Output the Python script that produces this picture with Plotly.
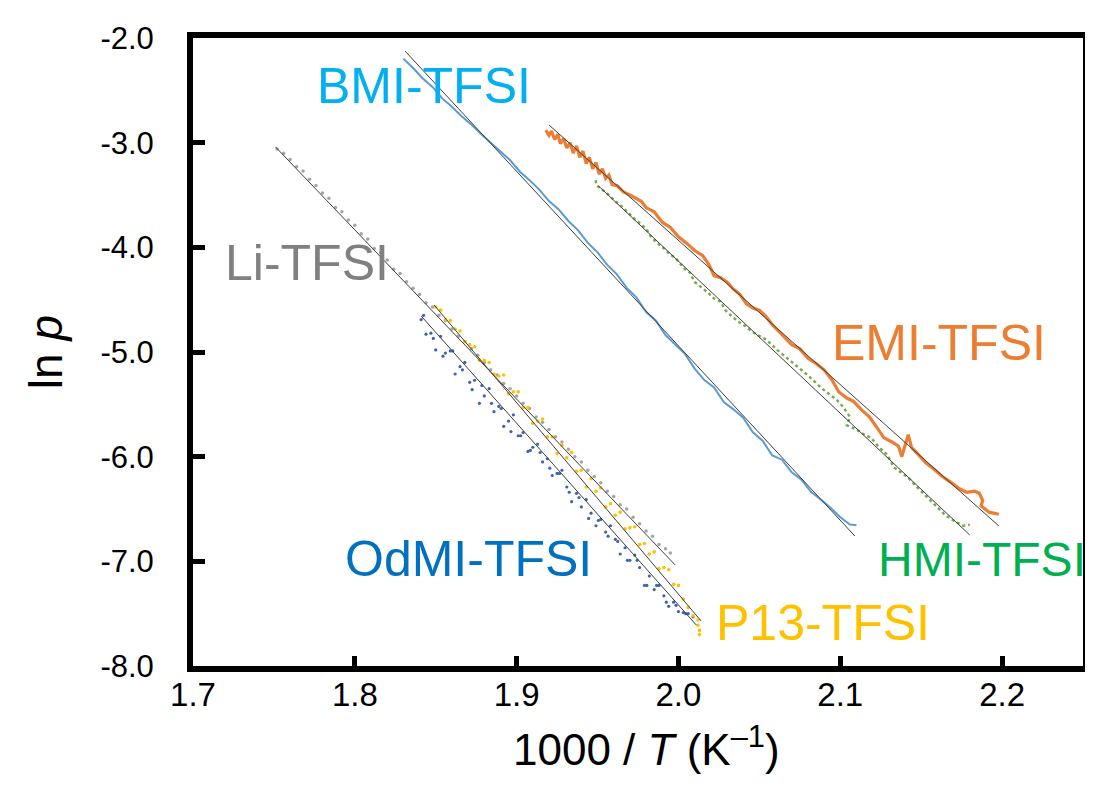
import plotly.graph_objects as go

# ---------------- data ----------------
x_ticks = [1.7, 1.8, 1.9, 2.0, 2.1, 2.2]
x_ticktext = ["1.7", "1.8", "1.9", "2.0", "2.1", "2.2"]
y_ticks = [-8, -7, -6, -5, -4, -3, -2]
y_ticktext = ["-8.0", "-7.0", "-6.0", "-5.0", "-4.0", "-3.0", "-2.0"]

# BMI-TFSI (line)
bmi_x = [1.830, 1.836, 1.842, 1.848, 1.854, 1.860, 1.866, 1.872, 1.878, 1.884, 1.890, 1.896,
         1.902, 1.908, 1.914, 1.920, 1.926, 1.932, 1.938, 1.944, 1.950, 1.956, 1.962, 1.968,
         1.974, 1.980, 1.986, 1.992, 1.998, 2.004, 2.010, 2.016, 2.022, 2.028, 2.034, 2.040,
         2.046, 2.052, 2.058, 2.064, 2.070, 2.076, 2.082, 2.088, 2.094, 2.100, 2.106, 2.110]
bmi_y = [-2.197, -2.287, -2.387, -2.467, -2.577, -2.657, -2.747, -2.827, -2.917, -2.998, -3.078, -3.168,
         -3.278, -3.358, -3.448, -3.558, -3.638, -3.748, -3.838, -3.958, -4.048, -4.168, -4.258, -4.388,
         -4.478, -4.618, -4.698, -4.838, -4.928, -5.018, -5.158, -5.268, -5.338, -5.478, -5.548, -5.628,
         -5.768, -5.848, -5.989, -6.029, -6.149, -6.219, -6.339, -6.409, -6.489, -6.579, -6.649, -6.655]

# EMI-TFSI (thick line)
emi_x = [1.9180, 1.9200, 1.9215, 1.9235, 1.9255, 1.9270, 1.9290, 1.9310, 1.9330, 1.9350, 1.9370, 1.9390,
         1.9410, 1.9430, 1.9450, 1.9470, 1.9490, 1.9510, 1.9530, 1.9550, 1.9570, 1.9590, 1.9620, 1.9660,
         1.9700, 1.9740, 1.9770, 1.9800, 1.9850, 1.9900, 1.9950, 2.0000, 2.0050, 2.0100, 2.0150, 2.0190,
         2.0220, 2.0260, 2.0300, 2.0340, 2.0380, 2.0420, 2.0460, 2.0500, 2.0540, 2.0580, 2.0620, 2.0660,
         2.0700, 2.0750, 2.0800, 2.0850, 2.0900, 2.0950, 2.0990, 2.1040, 2.1080, 2.1130, 2.1180, 2.1230,
         2.1270, 2.1320, 2.1360, 2.1380, 2.1420, 2.1440, 2.1480, 2.1530, 2.1580, 2.1630, 2.1680, 2.1730,
         2.1780, 2.1830, 2.1860, 2.1880, 2.1870, 2.1920, 2.1980]
emi_y = [-2.88, -2.93, -2.89, -2.97, -2.92, -3.01, -2.96, -3.05, -3.00, -3.10, -3.03, -3.14,
         -3.08, -3.20, -3.14, -3.25, -3.19, -3.30, -3.25, -3.34, -3.31, -3.40, -3.41, -3.47,
         -3.50, -3.53, -3.56, -3.62, -3.66, -3.76, -3.81, -3.90, -3.96, -4.03, -4.08, -4.17,
         -4.27, -4.29, -4.33, -4.40, -4.45, -4.54, -4.58, -4.60, -4.66, -4.74, -4.80, -4.87,
         -4.93, -4.97, -5.06, -5.11, -5.17, -5.27, -5.38, -5.44, -5.47, -5.55, -5.62, -5.73,
         -5.82, -5.86, -5.90, -6.00, -5.79, -5.91, -5.98, -6.06, -6.12, -6.19, -6.24, -6.30,
         -6.34, -6.33, -6.35, -6.42, -6.47, -6.53, -6.55]

# HMI-TFSI (dotted)
hmi_x = [1.9488, 1.9495, 1.9530, 1.9570, 1.9610, 1.9650, 1.9690, 1.9730, 1.9770, 1.9800, 1.9830, 1.9870,
         1.9910, 1.9950, 1.9980, 2.0010, 2.0040, 2.0070, 2.0100, 2.0140, 2.0180, 2.0220, 2.0260, 2.0290,
         2.0330, 2.0370, 2.0410, 2.0450, 2.0490, 2.0530, 2.0570, 2.0610, 2.0650, 2.0690, 2.0740, 2.0790,
         2.0840, 2.0880, 2.0930, 2.0980, 2.1020, 2.1060, 2.1040, 2.1100, 2.1150, 2.1190, 2.1240, 2.1290,
         2.1330, 2.1380, 2.1420, 2.1460, 2.1500, 2.1550, 2.1600, 2.1650, 2.1700, 2.1760, 2.1800]
hmi_y = [-3.36, -3.41, -3.45, -3.50, -3.56, -3.61, -3.67, -3.73, -3.78, -3.82, -3.90, -3.96,
         -4.01, -4.07, -4.10, -4.16, -4.21, -4.24, -4.33, -4.38, -4.43, -4.49, -4.52, -4.60,
         -4.66, -4.71, -4.75, -4.80, -4.84, -4.87, -4.92, -4.98, -5.03, -5.08, -5.14, -5.21,
         -5.28, -5.34, -5.40, -5.46, -5.53, -5.62, -5.70, -5.74, -5.79, -5.82, -5.91, -5.98,
         -6.10, -6.16, -6.20, -6.27, -6.33, -6.41, -6.49, -6.56, -6.61, -6.66, -6.65]

# Li-TFSI (small dots)
li_x = [1.752, 1.756, 1.760, 1.764, 1.768, 1.772, 1.776, 1.780, 1.784, 1.788, 1.792, 1.796,
        1.800, 1.804, 1.808, 1.812, 1.816, 1.820, 1.824, 1.828, 1.832, 1.836, 1.840, 1.844,
        1.848, 1.852, 1.856, 1.860, 1.864, 1.868, 1.872, 1.876, 1.880, 1.884, 1.888, 1.892,
        1.896, 1.900, 1.904, 1.908, 1.912, 1.916, 1.920, 1.924, 1.928, 1.932, 1.936, 1.940,
        1.944, 1.948, 1.952, 1.956, 1.960, 1.964, 1.968, 1.972, 1.976, 1.980, 1.984, 1.988,
        1.992, 1.995]
li_y = [-3.06, -3.10, -3.16, -3.23, -3.27, -3.35, -3.41, -3.48, -3.53, -3.62, -3.66, -3.74,
        -3.79, -3.87, -3.92, -4.01, -4.05, -4.12, -4.21, -4.25, -4.33, -4.39, -4.45, -4.53,
        -4.57, -4.65, -4.70, -4.78, -4.85, -4.90, -4.97, -5.03, -5.10, -5.17, -5.22, -5.30,
        -5.35, -5.42, -5.49, -5.54, -5.62, -5.67, -5.74, -5.81, -5.86, -5.93, -6.00, -6.05,
        -6.13, -6.19, -6.25, -6.33, -6.38, -6.46, -6.50, -6.58, -6.64, -6.71, -6.76, -6.84,
        -6.88, -6.92]

# OdMI-TFSI (scattered dots)
odmi_x = [1.841, 1.844, 1.847, 1.850, 1.853, 1.856, 1.859, 1.862, 1.865, 1.868, 1.871, 1.874,
          1.877, 1.880, 1.883, 1.886, 1.889, 1.892, 1.895, 1.898, 1.901, 1.904, 1.907, 1.910,
          1.913, 1.916, 1.919, 1.922, 1.925, 1.928, 1.931, 1.934, 1.937, 1.940, 1.943, 1.946,
          1.949, 1.952, 1.955, 1.958, 1.961, 1.964, 1.967, 1.970, 1.973, 1.976, 1.979, 1.982,
          1.985, 1.988, 1.991, 1.994, 1.997, 2.000, 2.003, 2.006, 2.009,
          1.8425, 1.8485, 1.8545, 1.8605, 1.8665, 1.8725, 1.8785, 1.8845, 1.8905, 1.8965,
          1.9025, 1.9085, 1.9145, 1.9205, 1.9265, 1.9325, 1.9385, 1.9445, 1.9505, 1.9565,
          1.9625, 1.9685, 1.9745, 1.9805, 1.9865, 1.9925, 1.9985, 2.0045]
odmi_y = [-4.69, -4.83, -4.82, -4.98, -4.85, -5.01, -4.99, -5.21, -5.14, -5.10, -5.29, -5.27,
          -5.49, -5.42, -5.35, -5.57, -5.52, -5.71, -5.66, -5.60, -5.80, -5.77, -5.95, -5.91,
          -5.88, -6.05, -6.02, -6.18, -6.16, -6.13, -6.29, -6.43, -6.35, -6.48, -6.41, -6.54,
          -6.66, -6.60, -6.72, -6.66, -6.79, -6.93, -6.87, -6.99, -6.94, -7.06, -7.23, -7.14,
          -7.27, -7.23, -7.33, -7.43, -7.39, -7.48, -7.49, -7.50, -7.53,
          -4.65, -4.87, -5.04, -4.99, -5.17, -5.36, -5.32, -5.49, -5.54, -5.76,
          -5.80, -5.94, -5.96, -6.11, -6.16, -6.34, -6.39, -6.59, -6.61, -6.76,
          -6.81, -6.99, -6.99, -7.23, -7.23, -7.39, -7.42, -7.50]

# P13-TFSI (dots)
p13_x = [1.850, 1.853, 1.856, 1.859, 1.862, 1.865, 1.868, 1.871, 1.874, 1.877, 1.880, 1.883,
         1.886, 1.889, 1.892, 1.895, 1.898, 1.901, 1.904, 1.907, 1.910, 1.913, 1.916, 1.919,
         1.922, 1.925, 1.928, 1.931, 1.934, 1.937, 1.940, 1.943, 1.946, 1.949, 1.952, 1.955,
         1.958, 1.961, 1.964, 1.967, 1.970, 1.973, 1.976, 1.979, 1.982, 1.985, 1.988, 1.991,
         1.994, 1.997, 2.000, 2.003, 2.006, 2.009, 2.012, 2.013, 2.013, 2.012]
p13_y = [-4.57, -4.60, -4.69, -4.70, -4.78, -4.80, -4.90, -4.93, -4.95, -5.08, -5.08, -5.10,
         -5.21, -5.23, -5.22, -5.40, -5.38, -5.38, -5.53, -5.53, -5.68, -5.66, -5.64, -5.81,
         -5.81, -5.97, -5.89, -6.01, -5.96, -6.14, -6.13, -6.29, -6.21, -6.33, -6.30, -6.48,
         -6.45, -6.56, -6.53, -6.69, -6.68, -6.67, -6.84, -6.83, -6.93, -6.91, -7.07, -7.06,
         -7.08, -7.22, -7.23, -7.36, -7.44, -7.52, -7.61, -7.66, -7.70, -7.56]

# linear fits (end points)
bmi_fit_x, bmi_fit_y = [1.831, 2.109], [-2.124, -6.758]
emi_fit_x, emi_fit_y = [1.920, 2.198], [-2.831, -6.662]
hmi_fit_x, hmi_fit_y = [1.9506, 2.180], [-3.414, -6.748]
li_fit_x, li_fit_y = [1.751, 1.998], [-3.041, -7.035]
p13_fit_x, p13_fit_y = [1.849, 2.014], [-4.551, -7.570]
odmi_fit_x, odmi_fit_y = [1.841, 2.011], [-4.656, -7.608]

FONT = "Liberation Sans, Arial, Helvetica, sans-serif"

fig = go.Figure()

# data series
fig.add_trace(go.Scatter(x=li_x, y=li_y, mode="markers",
                         marker=dict(color="#A5A5A5", size=3.5), hoverinfo="skip"))
fig.add_trace(go.Scatter(x=odmi_x, y=odmi_y, mode="markers",
                         marker=dict(color="#3B62B5", size=3.2), hoverinfo="skip"))
fig.add_trace(go.Scatter(x=p13_x, y=p13_y, mode="markers",
                         marker=dict(color="#FFC000", size=3.6), hoverinfo="skip"))
fig.add_trace(go.Scatter(x=bmi_x, y=bmi_y, mode="lines",
                         line=dict(color="#5B9BD5", width=2), hoverinfo="skip"))
fig.add_trace(go.Scatter(x=hmi_x, y=hmi_y, mode="lines",
                         line=dict(color="#70AD47", width=2.4, dash="dot"), hoverinfo="skip"))
fig.add_trace(go.Scatter(x=emi_x, y=emi_y, mode="lines",
                         line=dict(color="#ED7D31", width=3.2), hoverinfo="skip"))

# fit lines
for fx, fy in [(bmi_fit_x, bmi_fit_y), (emi_fit_x, emi_fit_y), (hmi_fit_x, hmi_fit_y),
               (li_fit_x, li_fit_y), (p13_fit_x, p13_fit_y), (odmi_fit_x, odmi_fit_y)]:
    fig.add_trace(go.Scatter(x=fx, y=fy, mode="lines",
                             line=dict(color="#3F3F3F", width=1), hoverinfo="skip"))

# series labels
labels = [
    ("BMI-TFSI", 1.8426, -2.46, "#00B0F0", 50),
    ("Li-TFSI", 1.7704, -4.15, "#808080", 50),
    ("EMI-TFSI", 2.1611, -4.91, "#ED7D31", 50),
    ("OdMI-TFSI", 1.8704, -6.98, "#0070C0", 50),
    ("HMI-TFSI", 2.1875, -6.98, "#00B050", 48),
    ("P13-TFSI", 2.0895, -7.59, "#FFC000", 50),
]
for txt, lx, ly, col, fs in labels:
    fig.add_annotation(x=lx, y=ly, xref="x", yref="y", text=txt, showarrow=False,
                       font=dict(family=FONT, size=fs, color=col),
                       xanchor="center", yanchor="middle")

# axis titles
fig.add_annotation(x=0.51, y=-0.128, xref="paper", yref="paper",
                   text="1000 / <i>T</i> (K<sup>–1</sup>)", showarrow=False,
                   font=dict(family=FONT, size=44, color="black"),
                   xanchor="center", yanchor="middle")
fig.add_annotation(x=-0.165, y=0.5, xref="paper", yref="paper",
                   text="ln <i>p</i>", showarrow=False, textangle=-90,
                   font=dict(family=FONT, size=46, color="black"),
                   xanchor="center", yanchor="middle")

fig.update_layout(
    width=1093, height=805,
    margin=dict(l=185, r=16, t=30, b=147),
    paper_bgcolor="white", plot_bgcolor="white",
    showlegend=False,
    font=dict(family=FONT, color="black"),
)
fig.update_xaxes(range=[1.7, 2.25], tickvals=x_ticks, ticktext=x_ticktext,
                 ticks="inside", ticklen=10, tickwidth=5, tickcolor="black",
                 showline=True, linewidth=6, linecolor="black", mirror=True,
                 showgrid=False, zeroline=False,
                 tickfont=dict(family=FONT, size=33, color="black"),
                 ticklabelstandoff=-6)
fig.update_yaxes(range=[-8, -2], tickvals=y_ticks, ticktext=y_ticktext,
                 ticks="inside", ticklen=12, tickwidth=5, tickcolor="black",
                 showline=True, linewidth=6, linecolor="black", mirror=True,
                 showgrid=False, zeroline=False,
                 tickfont=dict(family=FONT, size=31, color="black"),
                 ticklabelstandoff=27)

fig.write_html("out.html")
